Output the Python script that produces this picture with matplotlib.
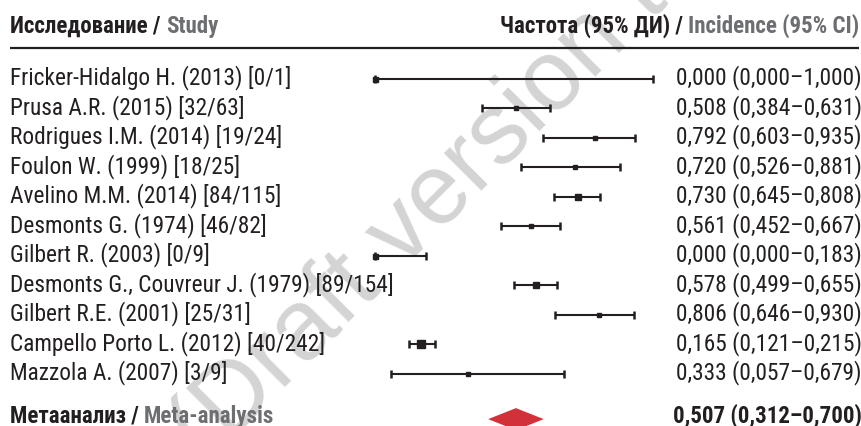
import matplotlib
matplotlib.use('Agg')
import matplotlib.pyplot as plt
from matplotlib.patches import Polygon

# Studies: author, year, cases / total
authors = ['Fricker-Hidalgo H.', 'Prusa A.R.', 'Rodrigues I.M.', 'Foulon W.', 'Avelino M.M.',
           'Desmonts G.', 'Gilbert R.', 'Desmonts G., Couvreur J.', 'Gilbert R.E.',
           'Campello Porto L.', 'Mazzola A.']
years = [2013, 2015, 2014, 1999, 2014, 1974, 2003, 1979, 2001, 2012, 2007]
events = [0, 32, 19, 18, 84, 46, 0, 89, 25, 40, 3]
totals = [1, 63, 24, 25, 115, 82, 9, 154, 31, 242, 9]

# Incidence with 95% CI
incidence = [0.000, 0.508, 0.792, 0.720, 0.730, 0.561, 0.000, 0.578, 0.806, 0.165, 0.333]
ci_low = [0.000, 0.384, 0.603, 0.526, 0.645, 0.452, 0.000, 0.499, 0.646, 0.121, 0.057]
ci_high = [1.000, 0.631, 0.935, 0.881, 0.808, 0.667, 0.183, 0.655, 0.930, 0.215, 0.679]

# Pooled estimate
meta_est = 0.507
meta_low = 0.312
meta_high = 0.700

# square size of each study marker (pt), scaled by study weight
marker_sizes = [3.6, 3.4, 2.4, 2.4, 4.3, 3.4, 3.6, 4.1, 3.1, 6.3, 3.1]

DARK = '#231f20'
GREY = '#6d6e71'
RED = '#d3313a'
FONT = ['Roboto Condensed', 'DejaVu Sans']
ROW_FS = 16.8
HEAD_FS = 16.5

plt.rcParams['font.family'] = FONT


def fmt(v):
    return f'{v:.3f}'.replace('.', ',')


def ci_label(est, lo, hi):
    return f'{fmt(est)} ({fmt(lo)}–{fmt(hi)})'


fig = plt.figure(figsize=(8.62, 4.26), dpi=100)
ax = fig.add_axes([0, 0, 1, 1])
ax.set_xlim(-1.349, 1.752)
ax.set_ylim(11.763, -2.678)
ax.axis('off')

# faint watermark behind everything
ax.text(0.239, -0.094, '(Draft version to', transform=ax.transAxes, fontsize=72,
        color='#d4d4d4', rotation=45, rotation_mode='anchor', ha='left', va='baseline',
        family='Liberation Sans', zorder=0, clip_on=False)

tr = ax.get_yaxis_transform()
X_LEFT = 10 / 862
X_VAL = 676 / 862
X_RIGHT = 859 / 862

# header
t = ax.text(X_LEFT, -1.56, 'Исследование / ', transform=tr, ha='left', va='baseline',
            fontsize=HEAD_FS, fontweight='bold', color=DARK)
ax.annotate('Study', xy=(1, 0), xycoords=t, ha='left', va='bottom',
            fontsize=HEAD_FS, fontweight='bold', color=GREY)
t = ax.text(X_RIGHT, -1.56, 'Incidence (95% CI)', transform=tr, ha='right', va='baseline',
            fontsize=HEAD_FS, fontweight='bold', color=GREY)
ax.annotate('Частота (95% ДИ) / ', xy=(0, 0), xycoords=t, ha='right', va='bottom',
            fontsize=HEAD_FS, fontweight='bold', color=DARK)
ax.plot([X_LEFT, X_RIGHT], [-1.034, -1.034], transform=tr, color=DARK, lw=1.6,
        solid_capstyle='butt')

# studies
for i in range(len(authors)):
    label = f'{authors[i]} ({years[i]}) [{events[i]}/{totals[i]}]'
    ax.text(X_LEFT, i + 0.2, label, transform=tr, ha='left', va='baseline',
            fontsize=ROW_FS, color=DARK)
    ax.text(X_VAL, i + 0.2, ci_label(incidence[i], ci_low[i], ci_high[i]), transform=tr,
            ha='left', va='baseline', fontsize=ROW_FS, color=DARK)
    ax.errorbar(incidence[i], i,
                xerr=[[incidence[i] - ci_low[i]], [ci_high[i] - incidence[i]]],
                fmt='s', color=DARK, ecolor=DARK, markersize=marker_sizes[i],
                elinewidth=1.5, capsize=3, capthick=1.8, zorder=3)

# pooled estimate
meta_y = 11.53
t = ax.text(X_LEFT, 11.66, 'Метаанализ / ', transform=tr, ha='left', va='baseline',
            fontsize=HEAD_FS, fontweight='bold', color=DARK)
ax.annotate('Meta-analysis', xy=(1, 0), xycoords=t, ha='left', va='bottom',
            fontsize=HEAD_FS, fontweight='bold', color=GREY)
ax.text(X_RIGHT + 3 / 862, 11.66, ci_label(meta_est, meta_low, meta_high), transform=tr,
        ha='right', va='baseline', fontsize=HEAD_FS, fontweight='bold', color=DARK)
half_w, half_h = 0.1, 0.373
ax.add_patch(Polygon([(meta_est - half_w, meta_y), (meta_est, meta_y - half_h),
                      (meta_est + half_w, meta_y), (meta_est, meta_y + half_h)],
                     closed=True, facecolor=RED, edgecolor='none', zorder=3))

fig.savefig('out.png', dpi=100)
